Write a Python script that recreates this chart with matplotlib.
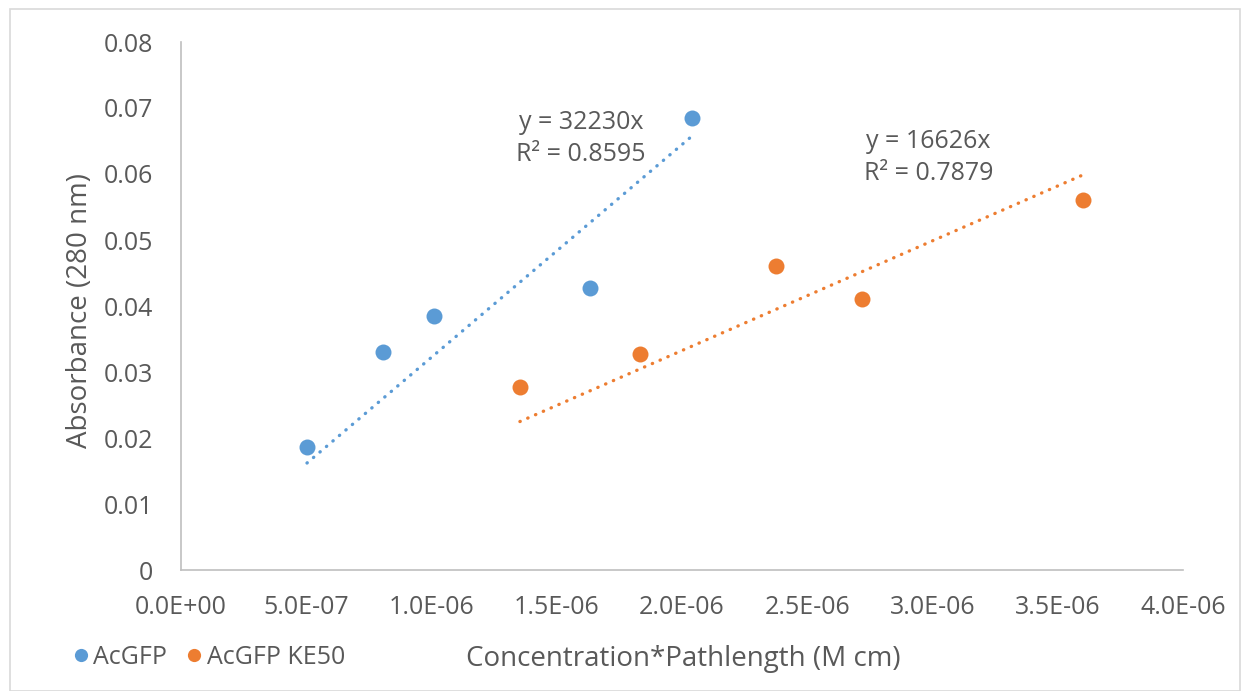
import matplotlib
matplotlib.use("Agg")
import matplotlib.pyplot as plt
from matplotlib.ticker import FuncFormatter, MultipleLocator
from matplotlib.lines import Line2D
from matplotlib.patches import Rectangle
import numpy as np

plt.rcParams['font.family'] = ['Open Sans', 'DejaVu Sans']

# Data
series_names = ["AcGFP", "AcGFP KE50"]
x_acgfp = [5.03e-7, 8.06e-7, 1.010e-6, 1.633e-6, 2.040e-6]
y_acgfp = [0.0186, 0.0330, 0.0385, 0.0427, 0.0685]
x_ke50 = [1.353e-6, 1.832e-6, 2.375e-6, 2.719e-6, 3.601e-6]
y_ke50 = [0.0277, 0.0327, 0.0461, 0.0411, 0.0561]
slopes = [32230, 16626]
r2_values = [0.8595, 0.7879]

blue = '#5B9BD5'
orange = '#ED7D31'
text_c = '#595959'
axis_c = '#BFBFBF'

W, H = 1247, 691
fig = plt.figure(figsize=(W / 100, H / 100), dpi=100)
ax = fig.add_axes([181 / W, 1 - 570 / H, (1183 - 181) / W, (570 - 42) / H])

# chart frame
fig.patches.append(Rectangle((10 / W, 0), 1230 / W, 682 / H, transform=fig.transFigure,
                             fill=False, edgecolor='#D9D9D9', lw=1.2))

for xs, ys, slope, col in [(x_acgfp, y_acgfp, slopes[0], blue), (x_ke50, y_ke50, slopes[1], orange)]:
    xs = np.asarray(xs)
    xl = np.array([xs.min(), xs.max()])
    ax.plot(xl, slope * xl, color=col, lw=2.4, linestyle=(0, (0.1, 2.45)),
            dash_capstyle='round', zorder=2)
    ax.plot(xs, ys, 'o', color=col, markersize=11.5, markeredgewidth=0, zorder=3)

ax.set_xlim(0, 4e-6)
ax.set_ylim(0, 0.08)
ax.xaxis.set_major_locator(MultipleLocator(5e-7))
ax.yaxis.set_major_locator(MultipleLocator(0.01))
ax.xaxis.set_major_formatter(FuncFormatter(lambda v, p: f"{v:.1E}"))
ax.yaxis.set_major_formatter(FuncFormatter(lambda v, p: '0' if abs(v) < 1e-12 else f"{v:.2f}"))
ax.tick_params(axis='both', length=0, labelsize=18, labelcolor=text_c)
ax.tick_params(axis='x', pad=18)
ax.tick_params(axis='y', pad=20)

for s in ['top', 'right']:
    ax.spines[s].set_visible(False)
for s in ['left', 'bottom']:
    ax.spines[s].set_color(axis_c)
    ax.spines[s].set_linewidth(1.2)

ax.set_xlabel("Concentration*Pathlength (M cm)", fontsize=20, color=text_c)
ax.set_ylabel("Absorbance (280 nm)", fontsize=20, color=text_c)
ax.xaxis.set_label_coords((683 - 181) / 1002, (570 - 645) / 528)
ax.yaxis.set_label_coords((94 - 181) / 1002, (570 - 310) / 528)

# trendline equations
eq_pos = [(1.597e-6, 0.0654), (2.985e-6, 0.0625)]
for (px, py), slope, r2 in zip(eq_pos, slopes, r2_values):
    ax.text(px, py, f"y = {slope}x\nR\u00b2 = {r2:.4f}", ha='center', va='center',
            fontsize=18, color=text_c, linespacing=1.35)

handles = [Line2D([], [], marker='o', color=c, linestyle='none', markersize=9.5, markeredgewidth=0)
           for c in (blue, orange)]
fig.legend(handles, series_names, loc='center left', bbox_to_anchor=(68 / W, 1 - 657 / H),
           ncol=2, frameon=False, fontsize=18, labelcolor=text_c, handletextpad=0.0,
           columnspacing=0.6, handlelength=1.0, borderaxespad=0, borderpad=0)

fig.savefig("out.png", dpi=100)
